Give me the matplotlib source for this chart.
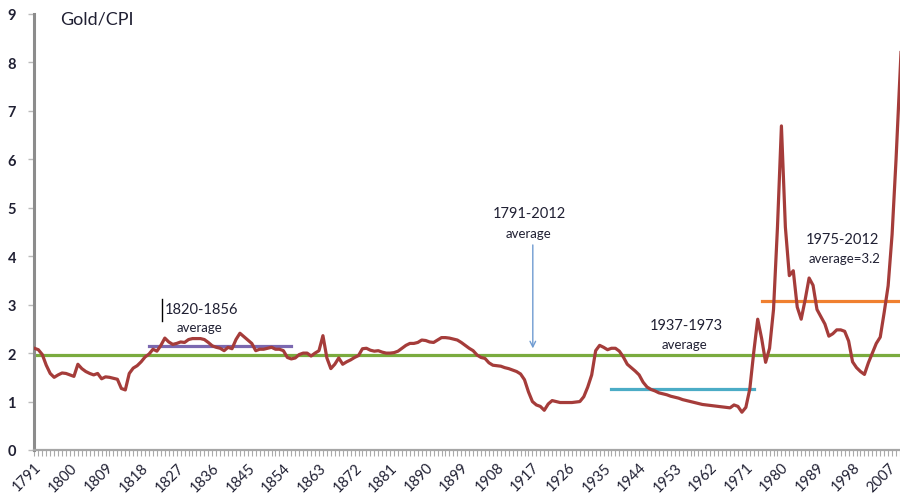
"""
Gold/CPI ratio 1791-2012 with period averages.
"""
import matplotlib
matplotlib.use("Agg")
import matplotlib.pyplot as plt
from matplotlib.ticker import MultipleLocator, FixedLocator

plt.rcParams["font.family"] = ["Lato", "DejaVu Sans"]

YEARS = list(range(1791, 2013))
GOLD_CPI = [
    2.10, 2.07, 1.97, 1.75, 1.58, 1.50, 1.55, 1.59, 1.58, 1.55,   # 1791-1800
    1.52, 1.77, 1.68, 1.62, 1.58, 1.55, 1.58, 1.47, 1.51, 1.50,   # 1801-1810
    1.48, 1.46, 1.27, 1.24, 1.58, 1.69, 1.74, 1.82, 1.92, 1.98,   # 1811-1820
    2.08, 2.04, 2.16, 2.31, 2.23, 2.18, 2.20, 2.23, 2.22, 2.28,   # 1821-1830
    2.30, 2.30, 2.30, 2.28, 2.22, 2.15, 2.12, 2.10, 2.05, 2.12,   # 1831-1840
    2.09, 2.28, 2.41, 2.34, 2.27, 2.20, 2.05, 2.08, 2.08, 2.10,   # 1841-1850
    2.12, 2.08, 2.08, 2.05, 1.91, 1.88, 1.90, 1.97, 2.00, 2.00,   # 1851-1860
    1.94, 2.00, 2.05, 2.36, 1.90, 1.68, 1.77, 1.90, 1.77, 1.82,   # 1861-1870
    1.86, 1.91, 1.95, 2.09, 2.10, 2.06, 2.04, 2.05, 2.02, 2.00,   # 1871-1880
    2.00, 2.01, 2.04, 2.10, 2.16, 2.20, 2.20, 2.22, 2.27, 2.26,   # 1881-1890
    2.23, 2.22, 2.27, 2.32, 2.32, 2.31, 2.29, 2.27, 2.22, 2.16,   # 1891-1900
    2.10, 2.05, 1.96, 1.91, 1.89, 1.80, 1.75, 1.74, 1.73, 1.70,   # 1901-1910
    1.68, 1.65, 1.62, 1.57, 1.45, 1.20, 1.00, 0.93, 0.90, 0.82,   # 1911-1920
    0.95, 1.02, 1.00, 0.98, 0.98, 0.98, 0.98, 0.99, 1.00, 1.10,   # 1921-1930
    1.30, 1.55, 2.05, 2.16, 2.12, 2.07, 2.10, 2.10, 2.04, 1.92,   # 1931-1940
    1.77, 1.70, 1.63, 1.55, 1.40, 1.30, 1.25, 1.22, 1.18, 1.16,   # 1941-1950
    1.14, 1.11, 1.09, 1.07, 1.04, 1.02, 1.00, 0.98, 0.96, 0.94,   # 1951-1960
    0.93, 0.92, 0.91, 0.90, 0.89, 0.88, 0.87, 0.93, 0.90, 0.78,   # 1961-1970
    0.88, 1.26, 2.02, 2.70, 2.30, 1.81, 2.10, 2.90, 4.60, 6.69,   # 1971-1980
    4.60, 3.60, 3.70, 2.95, 2.70, 3.10, 3.55, 3.40, 2.90, 2.75,   # 1981-1990
    2.60, 2.35, 2.40, 2.48, 2.48, 2.45, 2.25, 1.82, 1.70, 1.62,   # 1991-2000
    1.56, 1.80, 2.00, 2.20, 2.33, 2.84, 3.39, 4.45, 6.00, 7.80,   # 2001-2010
    9.40, 9.80,                                                   # 2011-2012
]

# period averages: (start, end, value, colour)
AVG_PERIODS = [
    (1791, 2012, 1.97, "#7aab3e"),
    (1820, 1856, 2.15, "#7b68b0"),
    (1937, 1973, 1.26, "#4bacc6"),
    (1975, 2012, 3.07, "#f08030"),
]

TICK_YEARS = list(range(1791, 2012, 9))
TEXT_COLOR = "#202033"

fig = plt.figure(figsize=(9.0, 5.02), dpi=100)
ax = fig.add_axes([34 / 900, 51 / 502, 866 / 900, 436 / 502])

ax.plot(YEARS, GOLD_CPI, color="#a53c3a", lw=2.3, solid_joinstyle="round", zorder=3)

for start, end, val, col in AVG_PERIODS:
    ax.plot([start, end], [val, val], color=col, lw=2.3, zorder=2)

ax.set_xlim(1790.9, 2010.0)
ax.set_ylim(0, 9)

ax.yaxis.set_major_locator(MultipleLocator(1))
ax.xaxis.set_major_locator(FixedLocator(TICK_YEARS))
ax.xaxis.set_minor_locator(MultipleLocator(1))
ax.set_xticklabels([str(y) for y in TICK_YEARS], rotation=45, ha="right",
                   rotation_mode="anchor", fontsize=10.5, color=TEXT_COLOR)
for lbl in ax.get_yticklabels():
    lbl.set_fontweight("bold")
    lbl.set_fontsize(10.5)
    lbl.set_color(TEXT_COLOR)

ax.tick_params(axis="y", length=4, width=1, color="#bbbbbb", pad=9)
ax.tick_params(axis="x", which="both", length=4, width=0.8, color="#aaaaaa", pad=3)

for side in ("top", "right"):
    ax.spines[side].set_visible(False)
ax.spines["left"].set_color("#8c8c8c")
ax.spines["left"].set_linewidth(2.2)
ax.spines["bottom"].set_color("#a6a6a6")
ax.spines["bottom"].set_linewidth(1.6)

# labels
ax.text(1806.7, 8.9, "Gold/CPI", fontsize=13, color=TEXT_COLOR, ha="center", va="center")

ax.text(1833.3, 2.91, "1820-1856", fontsize=10.5, color=TEXT_COLOR, ha="center", va="center")
ax.text(1832.8, 2.54, "average", fontsize=9.5, color=TEXT_COLOR, ha="center", va="center")
ax.plot([1823.4, 1823.4], [2.66, 3.12], color="black", lw=1.0)

ax.text(1916.3, 4.89, "1791-2012", fontsize=10.5, color=TEXT_COLOR, ha="center", va="center")
ax.text(1916.0, 4.48, "average", fontsize=9.5, color=TEXT_COLOR, ha="center", va="center")
ax.annotate("", xy=(1917.1, 2.04), xytext=(1917.1, 4.29),
            arrowprops=dict(arrowstyle="->", color="#6f9bd1", lw=1.0))

ax.text(1956.0, 2.58, "1937-1973", fontsize=10.5, color=TEXT_COLOR, ha="center", va="center")
ax.text(1955.6, 2.19, "average", fontsize=9.5, color=TEXT_COLOR, ha="center", va="center")

ax.text(1995.5, 4.35, "1975-2012", fontsize=10.5, color=TEXT_COLOR, ha="center", va="center")
ax.text(1996.0, 3.96, "average=3.2", fontsize=9.5, color=TEXT_COLOR, ha="center", va="center")

fig.savefig("out.png", dpi=100)
